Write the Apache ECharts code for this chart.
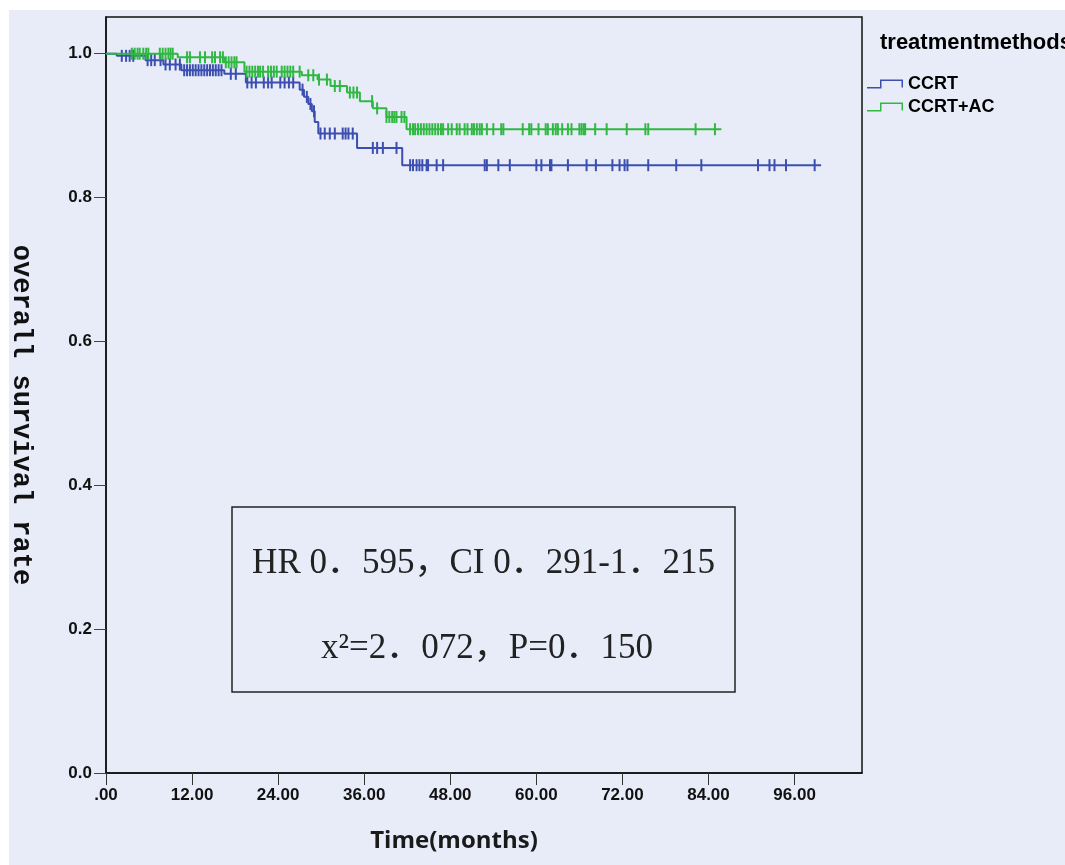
<!DOCTYPE html>
<html>
<head>
<meta charset="utf-8">
<title>overall survival</title>
<script src="https://cdn.jsdelivr.net/npm/echarts@6/dist/echarts.min.js"></script>
<style>
  html, body { margin: 0; padding: 0; background: #fff; }
  #chart { position: absolute; left: 9px; top: 10px; width: 1056px; height: 855px; background: #e7ecf8; }
</style>
</head>
<body>
<div id="chart"></div>
<script>
// axis ticks
const xTicks = [0, 12, 24, 36, 48, 60, 72, 84, 96]
const xTickLabels = ['.00', '12.00', '24.00', '36.00', '48.00', '60.00', '72.00', '84.00', '96.00']
const yTicks = [0, 0.2, 0.4, 0.6, 0.8, 1.0]
const yTickLabels = ['0.0', '0.2', '0.4', '0.6', '0.8', '1.0']

const groupNames = ['CCRT', 'CCRT+AC']

// CCRT: event times (months) and survival after each event
const ccrtEventTimes = [1.5, 5.5, 8.0, 10.5, 16.5, 19.5, 27.0, 27.6, 28.2, 28.7, 29.1, 29.6, 35.0, 41.3]
const ccrtSurvival = [0.997, 0.991, 0.985, 0.977, 0.972, 0.960, 0.950, 0.940, 0.930, 0.920, 0.905, 0.889, 0.869, 0.845]
const ccrtLastTime = 99.7
const ccrtCensored = [
  2.2, 2.8, 3.3, 3.8, 5.8, 6.3, 6.8, 7.6, 8.3, 8.9, 9.7, 10.3, 10.9, 11.3, 11.7, 12.1, 12.5, 12.9,
  13.3, 13.7, 14.1, 14.5, 14.9, 15.3, 15.7, 16.1, 17.4, 18.1, 19.7, 20.3, 20.9, 22.0, 22.6, 23.1,
  24.3, 24.9, 25.5, 26.1, 27.4, 28.0, 28.5, 29.0, 29.9, 30.5, 31.2, 31.9, 33.0, 33.4, 33.8, 34.4,
  37.2, 37.8, 38.6, 40.5, 42.4, 42.8, 43.3, 43.7, 44.1, 44.7, 44.9, 46.1, 47.0, 52.8, 53.1, 54.7,
  56.3, 60.0, 60.7, 61.9, 62.1, 64.4, 67.0, 68.3, 70.6, 71.6, 72.3, 72.7, 75.6, 79.5, 83.0, 90.9,
  92.5, 93.2, 94.8, 98.8
]

// CCRT+AC
const acEventTimes = [10.0, 16.5, 19.3, 27.3, 29.5, 31.3, 33.6, 35.4, 37.2, 39.1, 41.9]
const acSurvival = [0.995, 0.988, 0.975, 0.970, 0.964, 0.955, 0.946, 0.934, 0.924, 0.912, 0.895]
const acLastTime = 85.8
const acCensored = [
  3.6, 4.0, 4.4, 4.7, 5.2, 5.6, 5.9, 7.5, 7.9, 8.3, 8.7, 9.0, 9.3, 11.3, 11.7, 13.1, 13.8, 14.8,
  15.2, 15.9, 16.3, 16.7, 17.1, 17.5, 17.9, 18.2, 19.6, 20.0, 20.4, 20.8, 21.2, 21.5, 21.9, 22.6,
  23.0, 23.4, 23.8, 24.5, 24.9, 25.3, 25.7, 26.1, 27.0, 28.2, 28.9, 29.7, 30.8, 31.9, 32.6, 34.0,
  34.5, 35.0, 37.1, 37.8, 39.1, 39.5, 39.9, 40.2, 40.5, 41.2, 41.6, 42.4, 42.8, 43.1, 43.5, 43.9,
  44.3, 44.7, 45.1, 45.5, 45.9, 46.3, 46.7, 47.0, 47.7, 48.2, 48.9, 49.3, 50.0, 50.4, 51.0, 51.3,
  51.7, 52.1, 52.4, 53.1, 54.0, 55.1, 55.4, 58.1, 59.0, 59.3, 60.3, 61.3, 61.6, 62.3, 62.7, 63.0,
  63.6, 64.4, 64.9, 66.0, 66.3, 66.6, 66.8, 68.2, 69.8, 72.6, 75.2, 75.6, 82.2, 84.9
]

const statLines = ['HR 0．595，CI 0．291-1．215', 'x²=2．072，P=0．150']

const colors = ['#3c4fb0', '#30b842']

// build the step curve: start at 1, drop at each event, run on to last follow-up
const stepCurve = (times, surv, last) => {
  const pts = [[0, 1]]
  times.forEach((t, i) => pts.push([t, surv[i]]))
  pts.push([last, surv[surv.length - 1]])
  return pts
}

// survival level at time t (for censor marks)
const survAt = (times, surv, t) => {
  let s = 1
  times.forEach((et, i) => { if (et <= t) s = surv[i] })
  return s
}

const censorPoints = (times, surv, cens) => cens.map((t) => [t, survAt(times, surv, t)])

const chart = echarts.init(document.getElementById('chart'))

const tickFont = { fontFamily: 'Liberation Sans', fontWeight: 'bold', fontSize: 17, color: '#111' }

// step-shaped legend icon, like the SPSS key
const stepIcon = 'path://M0,7.5H13V0H36V8H34.5V1.5H14.5V9H0Z'

const option = {
  animation: false,
  title: {
    text: 'treatmentmethods',
    left: 871,
    top: 22,
    padding: 0,
    textStyle: { fontFamily: 'Liberation Sans', fontWeight: 'bold', fontSize: 22, color: '#000' }
  },
  legend: {
    orient: 'vertical',
    left: 858,
    top: 65,
    padding: 0,
    itemWidth: 36,
    itemHeight: 9,
    itemGap: 5,
    selectedMode: false,
    data: groupNames.map((n) => ({ name: n, icon: stepIcon })),
    textStyle: { fontFamily: 'Liberation Sans', fontWeight: 'bold', fontSize: 18, color: '#000', padding: [0, 0, 0, 0] }
  },
  grid: {
    left: 97,
    top: 7,
    right: 203,
    bottom: 92,
    outerBoundsMode: 'none',
    containLabel: false,
    show: true,
    backgroundColor: '#e7ecf8',
    borderColor: '#111',
    borderWidth: 1.5
  },
  xAxis: {
    type: 'value',
    min: 0,
    max: 105.4,
    name: 'Time(months)',
    nameLocation: 'middle',
    nameGap: 56,
    nameTextStyle: {
      fontFamily: 'Open Sans',
      fontWeight: 'bold',
      fontSize: 24,
      color: '#1a1a1a',
      padding: [0, 60, 0, 0]
    },
    splitLine: { show: false },
    axisLine: { show: true, lineStyle: { color: '#111', width: 1.5 } },
    axisTick: { show: true, length: 12, customValues: xTicks, lineStyle: { color: '#333' } },
    axisLabel: {
      margin: 14,
      customValues: xTicks,
      formatter: (v) => xTickLabels[xTicks.indexOf(v)] ?? '',
      ...tickFont
    }
  },
  yAxis: {
    type: 'value',
    min: 0,
    max: 1.051,
    name: 'overall survival rate',
    nameLocation: 'middle',
    nameRotate: -90,
    nameGap: 72,
    nameTextStyle: {
      fontFamily: 'Liberation Mono',
      fontWeight: 'bold',
      fontSize: 27,
      color: '#111',
      padding: [0, 0, 0, 40]
    },
    splitLine: { show: false },
    axisLine: { show: true, lineStyle: { color: '#111', width: 1.5 } },
    axisTick: { show: true, length: 12, customValues: yTicks, lineStyle: { color: '#444' } },
    axisLabel: {
      margin: 14,
      customValues: yTicks,
      formatter: (v) => {
        const i = yTicks.findIndex((t) => Math.abs(t - v) < 1e-6)
        return i >= 0 ? yTickLabels[i] : ''
      },
      ...tickFont
    }
  },
  graphic: [
    {
      type: 'rect',
      shape: { x: 223, y: 497, width: 503, height: 185 },
      style: { fill: 'transparent', stroke: '#222', lineWidth: 1.5 },
      z: 100
    },
    {
      type: 'text',
      x: 474.5,
      y: 554,
      z: 100,
      style: {
        text: statLines[0],
        fill: '#222',
        font: '35px "Liberation Serif", "Noto Sans CJK SC"',
        align: 'center',
        verticalAlign: 'middle'
      }
    },
    {
      type: 'text',
      x: 478,
      y: 639,
      z: 100,
      style: {
        text: statLines[1],
        fill: '#222',
        font: '35px "Liberation Serif", "Noto Sans CJK SC"',
        align: 'center',
        verticalAlign: 'middle'
      }
    }
  ],
  series: [
    {
      name: groupNames[0],
      type: 'line',
      step: 'end',
      symbol: 'none',
      data: stepCurve(ccrtEventTimes, ccrtSurvival, ccrtLastTime),
      lineStyle: { color: colors[0], width: 2 },
      itemStyle: { color: colors[0] },
      z: 2
    },
    {
      name: groupNames[0],
      type: 'scatter',
      symbol: 'rect',
      symbolSize: [2, 12],
      data: censorPoints(ccrtEventTimes, ccrtSurvival, ccrtCensored),
      itemStyle: { color: colors[0], opacity: 1 },
      z: 2
    },
    {
      name: groupNames[1],
      type: 'line',
      step: 'end',
      symbol: 'none',
      data: stepCurve(acEventTimes, acSurvival, acLastTime),
      lineStyle: { color: colors[1], width: 2 },
      itemStyle: { color: colors[1] },
      z: 3
    },
    {
      name: groupNames[1],
      type: 'scatter',
      symbol: 'rect',
      symbolSize: [2, 12],
      data: censorPoints(acEventTimes, acSurvival, acCensored),
      itemStyle: { color: colors[1], opacity: 1 },
      z: 3
    }
  ]
}

chart.setOption(option)
window.addEventListener('resize', () => chart.resize())
</script>
</body>
</html>
